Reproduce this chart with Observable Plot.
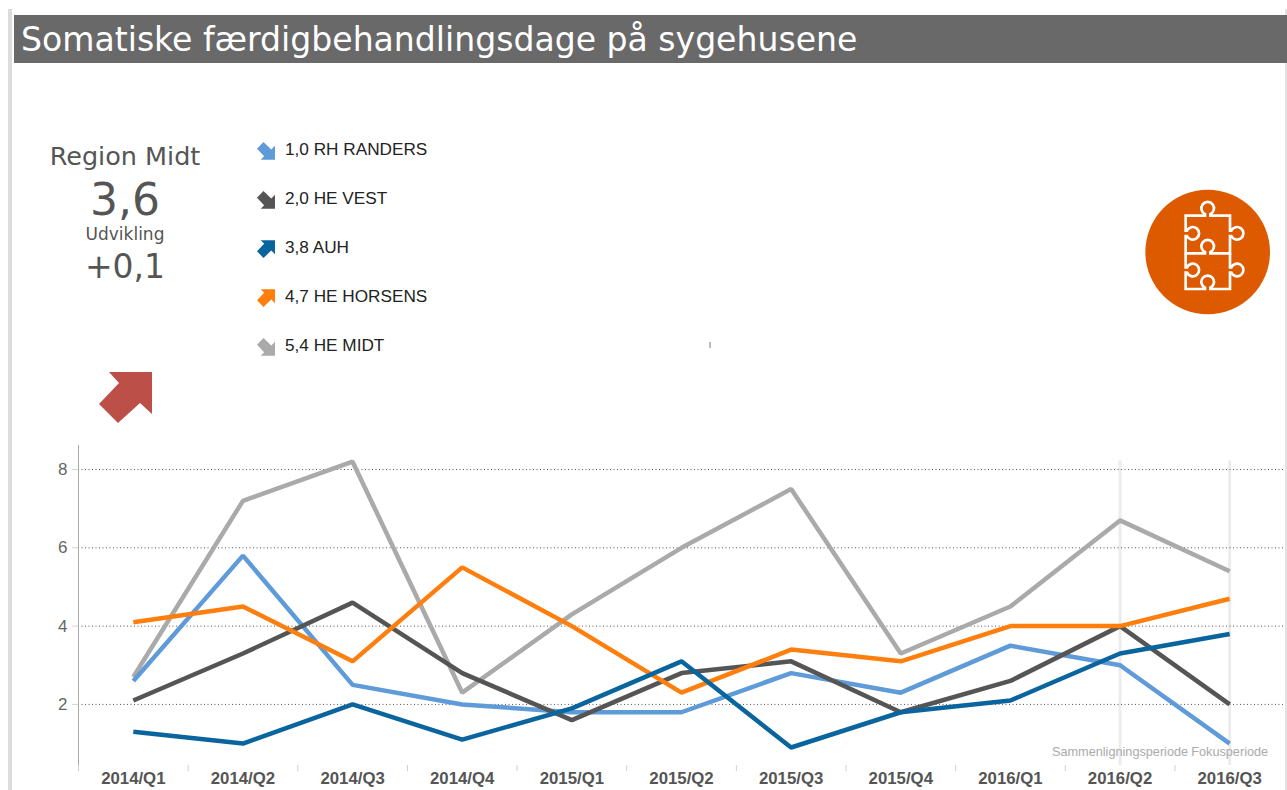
<!DOCTYPE html>
<html lang="da">
<head>
<meta charset="utf-8">
<script src="https://cdn.jsdelivr.net/npm/d3@7"></script>
<script src="https://cdn.jsdelivr.net/npm/@observablehq/plot@0.6"></script>
<style>
html,body{margin:0;padding:0;background:#fff;width:1287px;height:790px;overflow:hidden}
.abs{position:absolute}
.c{position:absolute;left:25px;width:200px;text-align:center;font-family:"DejaVu Sans",sans-serif;color:#555;line-height:1;white-space:nowrap}
.lg{position:absolute;left:285px;font:17.2px/20px "Liberation Sans",sans-serif;color:#222;white-space:nowrap}
#chart{position:absolute;left:0;top:440px}
</style>
</head>
<body>
<div class="abs" style="left:8px;top:9px;width:4px;height:781px;background:#dcdcdc"></div>
<div class="abs" style="left:1285px;top:9px;width:2px;height:781px;background:#e2e2e2"></div>
<div class="abs" style="left:14px;top:15px;width:1273px;height:48px;background:#696969"></div>
<div id="title" class="abs" style="left:21px;top:21px;font:33.1px/38px 'DejaVu Sans',sans-serif;color:#fff;white-space:nowrap">Somatiske færdigbehandlingsdage på sygehusene</div>
<div class="c" style="top:144px;font-size:25.5px">Region Midt</div>
<div class="c" style="top:178px;font-size:44px">3,6</div>
<div class="c" style="top:226px;font-size:17px">Udvikling</div>
<div class="c" style="top:250px;font-size:33px">+0,1</div>
<svg class="abs" style="left:90px;top:365px" width="70" height="65" viewBox="90 365 70 65"><polygon points="109,372 152,372 152,414 140,403 118,423 99,404 119,383" fill="#bc5049"/></svg>
<div id="legend"></div>
<svg class="abs" style="left:1040px;top:170px" width="247" height="160" viewBox="0 0 741 480">
<circle cx="503" cy="246" r="187" fill="#dd5a00"/>
<g fill="none" stroke="#fff" stroke-width="8">
<path d="M437 137H495V132A19 19 0 1 1 511 132V137H570V182H574A19 19 0 1 1 574 198H570V250H511V246A19 19 0 1 0 495 246V250H437V198H441A19 19 0 1 0 441 182H437Z"/>
<path d="M437 250V292H441A19 19 0 1 1 441 308H437V357H495V353A19 19 0 1 1 511 353V357H570V308H574A19 19 0 1 0 574 292H570V250"/>
</g>
</svg>
<div class="abs" style="left:709px;top:342px;width:2px;height:6px;background:#bbb"></div>
<div id="chart"></div>
<script>
const quarters = ["2014/Q1","2014/Q2","2014/Q3","2014/Q4","2015/Q1","2015/Q2","2015/Q3","2015/Q4","2016/Q1","2016/Q2","2016/Q3"];
const randers = [2.6,5.8,2.5,2.0,1.8,1.8,2.8,2.3,3.5,3.0,1.0];
const vest    = [2.1,3.3,4.6,2.8,1.6,2.8,3.1,1.8,2.6,4.0,2.0];
const auh     = [1.3,1.0,2.0,1.1,1.9,3.1,0.9,1.8,2.1,3.3,3.8];
const horsens = [4.1,4.5,3.1,5.5,4.0,2.3,3.4,3.1,4.0,4.0,4.7];
const midt    = [2.7,7.2,8.2,2.3,4.3,6.0,7.5,3.3,4.5,6.7,5.4];
const yTicks = [2,4,6,8];
const focusLabels = [["2016/Q2","Sammenligningsperiode"],["2016/Q3","Fokusperiode"]];
const seriesNames = ["HE MIDT","RH RANDERS","HE VEST","HE HORSENS","AUH"];
const seriesValues = [midt,randers,vest,horsens,auh];
const seriesColors = ["#aaaaaa","#5f9bd8","#555555","#ff7f0e","#0a659e"];
const legendRows = [["1,0 RH RANDERS","#5f9bd8",-1],["2,0 HE VEST","#555555",-1],["3,8 AUH","#0a659e",1],["4,7 HE HORSENS","#ff7f0e",1],["5,4 HE MIDT","#aaaaaa",-1]];

const legend = document.getElementById("legend");
legendRows.forEach(([label,color,dir],i)=>{
  const top = 138 + i*49;
  const t = document.createElement("div");
  t.className = "lg"; t.style.top = (top+1) + "px"; t.textContent = label;
  legend.appendChild(t);
  const flip = dir < 0 ? "translate(0 53) scale(1 -1)" : "";
  const s = document.createElementNS("http://www.w3.org/2000/svg","svg");
  s.setAttribute("class","abs");
  s.setAttribute("style",`left:257px;top:${top+4}px`);
  s.setAttribute("width",18); s.setAttribute("height",18);
  s.setAttribute("viewBox","0 0 53 53");
  s.innerHTML = `<polygon transform="${flip}" points="11,1 53,1 53,42 42,31 19,53 0,33 21,11" fill="${color}"/>`;
  legend.appendChild(s);
});

const rows = seriesNames.flatMap((name,i)=>quarters.map((q,j)=>({q,name,v:seriesValues[i][j]})));
const yMin = 0.44, yMax = 8.613;

const plot = Plot.plot({
  width:1287, height:350,
  marginLeft:78, marginRight:3, marginTop:5, marginBottom:25,
  style:{background:"transparent",fontFamily:"'Liberation Sans',sans-serif",overflow:"visible"},
  x:{type:"band",domain:quarters,padding:0,round:false,label:null},
  y:{domain:[yMin,yMax],label:null},
  color:{domain:seriesNames,range:seriesColors},
  marks:[
    Plot.ruleX(["2016/Q2","2016/Q3"],{x:d=>d,y1:yMin,y2:8.22,stroke:"#ececec",strokeWidth:3}),
    Plot.ruleY(yTicks,{y:d=>d,stroke:"#555",strokeWidth:1,strokeDasharray:"1 2.5"}),
    Plot.frame({anchor:"left",stroke:"#a8a8a8",strokeWidth:1}),
    Plot.ruleX(quarters,{x:d=>d,dx:-54.77,y1:yMin-0.16,y2:yMin,stroke:"#cfcfcf",strokeWidth:1}),
    Plot.line(rows,{x:"q",y:"v",z:"name",stroke:"name",strokeWidth:4.5,strokeLinejoin:"miter",strokeLinecap:"butt"}),
    Plot.text(focusLabels,{x:d=>d[0],y:0.775,text:d=>d[1],fill:"#aaaaaa",fontSize:12.7}),
    Plot.axisX({tickSize:0,tickPadding:7,fontSize:16.8,fontWeight:"bold",fill:"#555",label:null,lineAnchor:"top"}),
    Plot.axisY(yTicks,{tickSize:6,tickPadding:5,fontSize:17,stroke:"#d5d5d5",fill:"#666",label:null})
  ]
});
document.getElementById("chart").appendChild(plot);
</script>
</body>
</html>
